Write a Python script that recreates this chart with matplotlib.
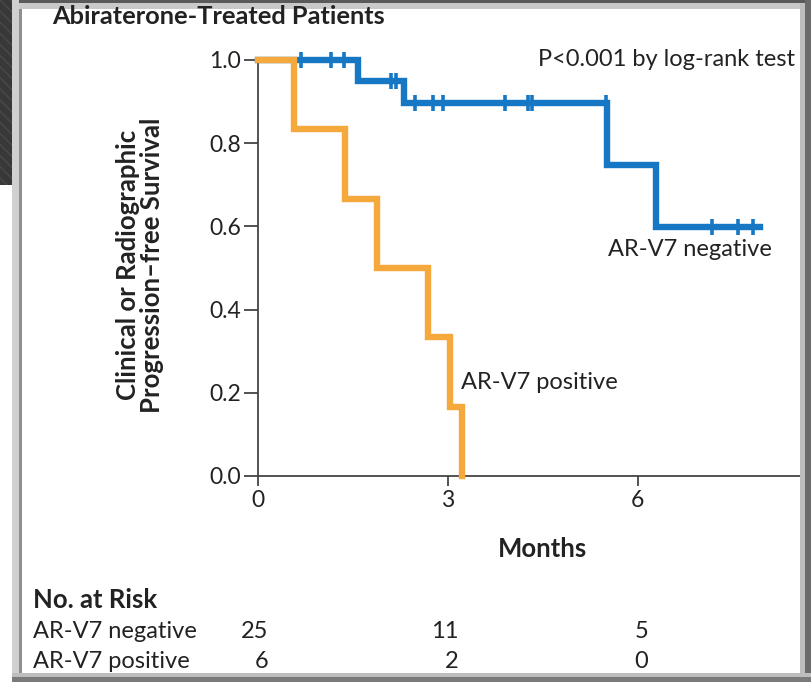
import matplotlib
matplotlib.use("Agg")
import matplotlib.pyplot as plt
from matplotlib.patches import Rectangle
from matplotlib.transforms import blended_transform_factory
import numpy as np

plt.rcParams['font.family'] = ['Lato', 'DejaVu Sans']

# Kaplan-Meier steps (months, survival probability)
neg_times = [0.0, 1.58, 2.31, 5.51, 6.28, 7.93]
neg_surv = [1.0, 0.95, 0.8972, 0.7477, 0.5981, 0.5981]
neg_censor = [0.68, 1.15, 1.36, 2.10, 2.18, 2.48, 2.76, 2.92, 3.90, 4.26,
              4.33, 5.50, 7.17, 7.58, 7.82]

pos_times = [0.0, 0.57, 1.37, 1.88, 2.68, 3.03, 3.22]
pos_surv = [1.0, 0.8333, 0.6667, 0.5, 0.3333, 0.1667, 0.0]

risk_months = [0, 3, 6]
risk_neg = [25, 11, 5]
risk_pos = [6, 2, 0]

x_ticks = [0, 3, 6]
y_ticks = [0.0, 0.2, 0.4, 0.6, 0.8, 1.0]

BLUE = '#1677c4'
ORANGE = '#f5a83c'
INK = '#222222'

W, H = 812, 682
fig = plt.figure(figsize=(W / 100, H / 100), dpi=100)
fig.patch.set_facecolor('white')


def fx(px):
    return px / W


def fy(py):
    return 1 - py / H


# slide background strip and picture frame
fig.patches.append(Rectangle((0, fy(185)), fx(12), fy(0) - fy(185),
                             transform=fig.transFigure, facecolor='#383838',
                             edgecolor='#4a4a4a', hatch='\\\\\\', lw=0, zorder=0))
frame = [
    ((12, 0), 800, 3, '#5a5a5a'),
    ((12, 3), 795, 6, '#c9c9c9'),
    ((12, 0), 7, 682, '#d0d0d0'),
    ((19, 9), 3, 664, '#8f8f8f'),
    ((800, 3), 5, 672, '#bdbdbd'),
    ((805, 0), 7, 682, '#6a6a6a'),
    ((12, 673), 800, 4, '#bdbdbd'),
    ((12, 677), 800, 5, '#7a7a7a'),
]
for (x0, y0), w, h, c in frame:
    fig.patches.append(Rectangle((fx(x0), fy(y0 + h)), fx(w), h / H,
                                 transform=fig.transFigure, facecolor=c,
                                 lw=0, zorder=1))

ax = fig.add_axes([fx(258), fy(476), fx(800 - 258), (476 - 60) / H])
ax.set_xlim(0, 8.56)
ax.set_ylim(0, 1.0)
ax.set_facecolor('none')

for s in ['top', 'right']:
    ax.spines[s].set_visible(False)
for s in ['left', 'bottom']:
    ax.spines[s].set_color('#444444')
    ax.spines[s].set_linewidth(1.3)

ax.set_xticks(x_ticks)
ax.set_xticklabels([str(t) for t in x_ticks])
ax.set_yticks(y_ticks)
ax.set_yticklabels([f'{t:.1f}' for t in y_ticks])
ax.tick_params(axis='y', direction='out', length=10, width=1.3, color='#444444',
               labelsize=16.5, labelcolor=INK, pad=2)
ax.tick_params(axis='x', direction='out', length=7, width=1.3, color='#444444',
               labelsize=16.5, labelcolor=INK, pad=3)

ax.step(neg_times, neg_surv, where='post', color=BLUE, lw=4.6,
        solid_joinstyle='miter', clip_on=False, zorder=3)
cens_y = [neg_surv[np.searchsorted(neg_times, t, side='right') - 1] for t in neg_censor]
ax.plot(neg_censor, cens_y, ls='none', marker='|', ms=11, mew=2.6,
        color=BLUE, clip_on=False, zorder=3)
ax.step(pos_times, pos_surv, where='post', color=ORANGE, lw=4.6,
        solid_joinstyle='miter', clip_on=False, zorder=4)

ax.text(0.99, 1.0, 'P<0.001 by log-rank test', transform=ax.transAxes,
        ha='right', va='center', fontsize=17, color=INK)
ax.text(5.52, 0.545, 'AR-V7 negative', ha='left', va='center', fontsize=17, color=INK)
ax.text(3.2, 0.225, 'AR-V7 positive', ha='left', va='center', fontsize=17, color=INK)

fig.text(fx(543), fy(549), 'Months', ha='center', va='center', fontsize=18.5,
         fontweight='bold', color=INK)
fig.text(fx(140), fy(265), 'Clinical or Radiographic\nProgression\u2013free Survival',
         rotation=90, ha='center', va='center', fontsize=18.5, fontweight='bold',
         color=INK, linespacing=1.0)
fig.text(fx(52), fy(17), 'Abiraterone-Treated Patients', ha='left', va='center',
         fontsize=18.3, fontweight='bold', color=INK)

# number at risk table
fig.text(fx(33), fy(600), 'No. at Risk', ha='left', va='center', fontsize=18.5,
         fontweight='bold', color=INK)
fig.text(fx(33), fy(632), 'AR-V7 negative', ha='left', va='center', fontsize=17, color=INK)
fig.text(fx(33), fy(661), 'AR-V7 positive', ha='left', va='center', fontsize=17, color=INK)
tr = blended_transform_factory(ax.transData, fig.transFigure)
for m, n_neg, n_pos in zip(risk_months, risk_neg, risk_pos):
    ax.text(m + 0.16, fy(632), str(n_neg), transform=tr, ha='right', va='center',
            fontsize=17, color=INK, clip_on=False)
    ax.text(m + 0.16, fy(661), str(n_pos), transform=tr, ha='right', va='center',
            fontsize=17, color=INK, clip_on=False)

fig.savefig('out.png', dpi=100)
